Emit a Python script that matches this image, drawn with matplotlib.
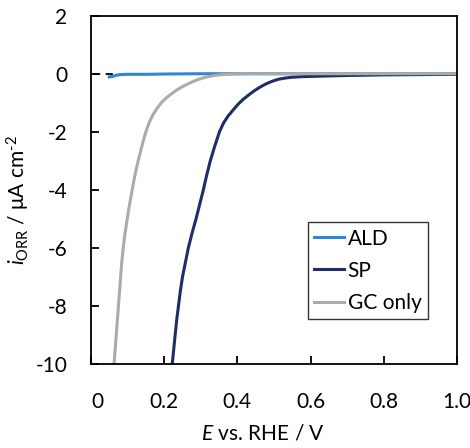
import matplotlib
matplotlib.use("Agg")
import matplotlib.pyplot as plt
import matplotlib.transforms as mtransforms

plt.rcParams["font.family"] = ["Lato", "DejaVu Sans"]
plt.rcParams["font.size"] = 15
plt.rcParams["axes.unicode_minus"] = False
plt.rcParams["mathtext.fontset"] = "custom"
plt.rcParams["mathtext.rm"] = "Lato"
plt.rcParams["mathtext.it"] = "Lato:italic"

# ---- data ----
e_ald = [0.050, 0.055, 0.060, 0.065, 0.070, 0.075, 0.080, 0.10, 0.15, 0.20, 0.30, 0.40, 0.60, 0.80, 1.00]
i_ald = [-0.11, -0.10, -0.09, -0.07, -0.05, -0.04, -0.03, -0.02, -0.02, -0.01, 0.0, 0.0, 0.0, 0.0, 0.0]

e_sp = [0.222, 0.226, 0.230, 0.234, 0.239, 0.244, 0.250, 0.258, 0.266,
        0.276, 0.287, 0.297, 0.307, 0.316, 0.326, 0.338, 0.351, 0.362, 0.375,
        0.389, 0.402, 0.416, 0.432, 0.447, 0.462, 0.478, 0.495, 0.512, 0.530,
        0.550, 0.580, 0.620, 0.700, 0.800, 0.900, 1.000]
i_sp = [-10.0, -9.5, -9.0, -8.5, -8.0, -7.5, -7.0, -6.5, -6.0,
        -5.5, -5.0, -4.5, -4.0, -3.5, -3.0, -2.5, -2.0, -1.7, -1.45,
        -1.24, -1.05, -0.88, -0.72, -0.58, -0.46, -0.35, -0.26, -0.19, -0.15,
        -0.12, -0.10, -0.085, -0.06, -0.04, -0.03, -0.02]

e_gc = [0.063, 0.066, 0.069, 0.072, 0.075, 0.078, 0.081, 0.084, 0.088, 0.093,
        0.099, 0.104, 0.109, 0.114, 0.120, 0.127, 0.135, 0.142, 0.150, 0.160,
        0.170, 0.180, 0.192, 0.205, 0.218, 0.232, 0.246, 0.260, 0.275, 0.290,
        0.305, 0.320, 0.335, 0.350, 0.370, 0.390, 0.420, 0.600, 1.000]
i_gc = [-10.0, -9.5, -9.0, -8.5, -8.0, -7.5, -7.0, -6.5, -6.0, -5.5,
        -5.0, -4.6, -4.25, -3.9, -3.5, -3.1, -2.7, -2.35, -2.0, -1.65,
        -1.4, -1.2, -1.0, -0.84, -0.71, -0.58, -0.47, -0.38, -0.29, -0.21,
        -0.15, -0.10, -0.065, -0.04, -0.02, -0.01, 0.0, 0.0, 0.0]

dash_e = [0.006, 0.061]
dash_i = [0.0, 0.0]

x_ticks = [0, 0.2, 0.4, 0.6, 0.8, 1.0]
x_labels = ["0", "0.2", "0.4", "0.6", "0.8", "1.0"]
y_ticks = [2, 0, -2, -4, -6, -8, -10]
y_labels = ["2", "0", "-2", "-4", "-6", "-8", "-10"]

fig = plt.figure(figsize=(4.70, 4.48), dpi=100)
ax = fig.add_axes([0.1936, 0.1875, 0.7787, 0.7775])

ax.plot(dash_e, dash_i, color="black", lw=1.3, ls=(0, (4, 3)))
ax.plot(e_ald, i_ald, color="#2F86D4", lw=2.2, label="ALD", solid_joinstyle="round")
ax.plot(e_sp, i_sp, color="#1F2D66", lw=2.2, label="SP", solid_joinstyle="round")
ax.plot(e_gc, i_gc, color="#ABABAB", lw=2.2, label="GC only", solid_joinstyle="round")

ax.set_xlim(0, 1.0)
ax.set_ylim(-10, 2)
ax.set_xticks(x_ticks)
ax.set_xticklabels(x_labels)
ax.set_yticks(y_ticks)
ax.set_yticklabels(y_labels)
ax.tick_params(axis="x", direction="in", length=6, width=1.3, pad=20)
ax.tick_params(axis="y", direction="in", length=6, width=1.3, pad=17)

# first x label sits a bit right of its tick, as in the original
lab0 = ax.get_xticklabels()[0]
lab0.set_transform(lab0.get_transform() + mtransforms.ScaledTranslation(5 / 72, 0, fig.dpi_scale_trans))

for sp in ax.spines.values():
    sp.set_linewidth(1.3)
    sp.set_color("black")

ax.set_xlabel(r"$\mathit{E}$ vs. RHE / V")
ax.xaxis.set_label_coords(0.47, -0.17)
ax.set_ylabel(r"$\mathit{i}_{\mathrm{ORR}}$ / μA cm$^{\text{-}2}$")
ax.yaxis.set_label_coords(-0.16, 0.47)

leg = ax.legend(loc="lower left", bbox_to_anchor=(0.593, 0.129), frameon=True,
                fancybox=False, edgecolor="black", handlelength=1.45,
                handletextpad=0.15, labelspacing=0.58, borderpad=0.3,
                borderaxespad=0, fontsize=15)
leg.get_frame().set_linewidth(1.0)

fig.savefig("out.png", dpi=100)
